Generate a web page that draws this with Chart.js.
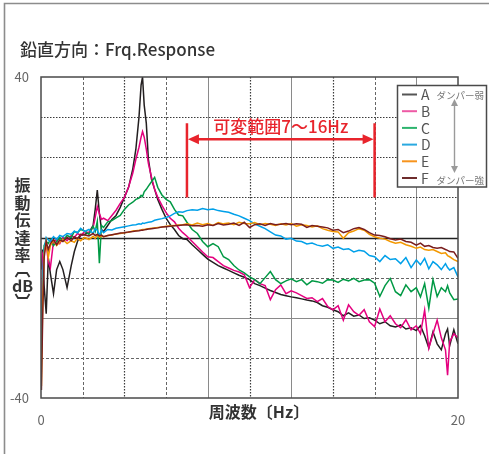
<!DOCTYPE html>
<html lang="ja">
<head>
<meta charset="utf-8">
<title>鉛直方向：Frq.Response</title>
<script src="https://cdn.jsdelivr.net/npm/chart.js@4.4.1/dist/chart.umd.min.js"></script>
<style>
  html, body { margin: 0; padding: 0; background: #fff; }
  canvas { display: block; }
</style>
</head>
<body>
<canvas id="frq" width="489" height="454"></canvas>
<script>
// frequency axis (Hz), shared by all series
const freqHz = [
  0.02, 0.08, 0.15, 0.25, 0.35, 0.45, 0.6, 0.75, 0.9, 1.05,
  1.25, 1.45, 1.6, 1.75, 1.9, 2.1, 2.3, 2.5, 2.6, 2.7,
  2.8, 2.9, 3.0, 3.2, 3.4, 3.6, 3.8, 4.0, 4.2, 4.4,
  4.55, 4.7, 4.8, 4.87, 4.95, 5.05, 5.15, 5.3, 5.45, 5.6,
  5.8, 6.0, 6.2, 6.4, 6.6, 6.8, 7.0, 7.25, 7.5, 7.75,
  8.0, 8.25, 8.5, 8.75, 9.0, 9.25, 9.5, 9.75, 10.0, 10.25,
  10.5, 10.75, 11.0, 11.25, 11.5, 11.75, 12.0, 12.25, 12.5, 12.75,
  13.0, 13.25, 13.5, 13.75, 14.0, 14.25, 14.5, 14.75, 15.0, 15.25,
  15.5, 15.75, 16.0, 16.25, 16.5, 16.75, 17.0, 17.25, 17.5, 17.75,
  18.0, 18.2, 18.4, 18.6, 18.8, 19.0, 19.2, 19.4, 19.5, 19.6,
  19.8, 20.0
];

// transmissibility (dB) per damper setting
const seriesA = [
  -8, -3, -12, -19, -5, -9, -14, -8, -6, -8,
  -12.5, -7, -3.5, -1, 0.5, 0.8, 1.2, 3, 7, 11.8,
  6, 2, 1.5, 3, 4.5, 5.5, 7.5, 10, 12.5, 17,
  22, 30, 38, 40, 33, 28.5, 19.5, 14.5, 12, 9.5,
  7, 4.8, 3.2, 2, 0.5, -0.3, -0.5, -1.8, -3, -4.2,
  -5.4, -6.2, -7, -7.6, -8.2, -8.8, -9.4, -9.9, -10.5, -11.5,
  -12, -12.6, -13.2, -13.7, -14.2, -14.5, -14.8, -15, -15.3, -15.6,
  -15.8, -16.2, -17, -17.4, -18, -18.5, -19.5, -18.8, -19.6, -19.3,
  -20.2, -20, -20.6, -21.5, -21, -22, -22.3, -21.8, -22.8, -22.5,
  -23.2, -22, -24.5, -27.5, -23.5, -26.5, -28, -24, -22.8, -27,
  -23, -26.5
];
const seriesB = [
  -22, -4, -3, -1.5, -6, -7.5, -1, -0.5, -1.5, 0,
  -0.8, 0.5, 0, 1, 0.5, 1.5, 1.2, 2.5, 5, 7.7,
  6, 4.5, 4.8, 4.2, 5.5, 6.8, 8.5, 10, 12.6, 16,
  19.5, 22.5, 25, 26.4, 25, 22, 18.5, 15, 12, 10,
  8, 6.2, 4.8, 3.9, 2.3, 1.2, 0.3, -1, -2.3, -3.6,
  -4.8, -5, -6, -7, -7.6, -8.2, -8.6, -9.3, -12.5, -10.5,
  -11.5, -12, -15.5, -13, -11.8, -14, -13.3, -13.8, -14.5, -15.2,
  -15, -16, -15.2, -17.2, -18, -17, -20.6, -16.8, -18.5, -19.4,
  -18, -21, -22.2, -17.8, -21, -19.5, -21.5, -22.5, -20.5, -23,
  -22, -24, -18.1, -27.6, -24, -20.6, -25, -28, -34.3, -26,
  -24, -25
];
const seriesC = [
  -20, -14, -2, -1, -1.5, -0.5, -2, -1, 0, -0.8,
  0.5, 0, 1.5, 1.2, 2, 1.6, 0.8, 2.8, 1.5, 4,
  -6.4, 3, 2.5, 3.9, 4.2, 4.9, 5.5, 7, 8.1, 8.8,
  9.5, 9.8, 10.5, 10.2, 11.4, 12, 12.8, 13.9, 15, 12.5,
  10.6, 9.5, 8.9, 7, 5.6, 5.4, 3.8, 2, 1, -1,
  -2.3, -1.5, -2.3, -4.8, -5.5, -7, -8.1, -8.8, -9.8, -10.5,
  -11.5, -10, -8.5, -10.5, -11.5, -10.8, -10.3, -11, -10.5, -11.8,
  -10.8, -11, -11.4, -10.5, -10.6, -11.2, -10.4, -10.8, -10.2, -11,
  -10.6, -10.5, -11.4, -14.7, -12, -10.2, -13.5, -14.5, -11.8, -13.5,
  -12.5, -14.8, -11.5, -17.6, -10.5, -14.7, -12.5, -13.5, -12, -13.8,
  -15.5, -15.3
];
const seriesD = [
  -29, -10, -3, 0, -0.6, -1, 0.2, -0.5, 0.5, 0.2,
  1, 0.8, 1.6, 1.2, 2.3, 1.5, 2, 1, 2.2, 1.8,
  0.5, 1.8, 1.2, 2, 1.9, 2.3, 2.5, 2.7, 2.9, 3.1,
  3.2, 3.4, 3.3, 3.6, 3.5, 3.7, 3.8, 3.9, 4.3, 4.5,
  4.7, 5, 5.4, 6, 6.4, 6.3, 6.7, 6.9, 6.8, 7.2,
  6.9, 7.1, 6.7, 6.5, 6.3, 5.8, 5.4, 4.8, 4.2, 3.4,
  2.8, 2.2, 1.4, 0.6, 0.4, -0.4, -0.2, -0.9, -1, -1.6,
  -1.4, -1.9, -2.2, -1.8, -2.7, -2.4, -3, -2.8, -3.6, -3.2,
  -3.4, -4.5, -4.8, -6, -4.5, -5.5, -5.3, -6.5, -5, -7.5,
  -5.6, -6.8, -5.2, -7.8, -6, -6.8, -8, -6.5, -7.5, -8.1,
  -7.5, -9.8
];
const seriesE = [
  -37, -16, -4, -1, -5, -2, -0.8, -2, -1.2, -0.5,
  -1.5, -0.8, -1.2, -0.2, -0.8, 0, -0.5, 0.3, -0.2, 0.6,
  0.1, 0.3, 0.2, 0.5, 0.6, 0.9, 1, 1.2, 1.3, 1.6,
  1.7, 1.8, 1.9, 2, 2, 2.1, 2.2, 2.3, 2.4, 2.5,
  2.6, 2.8, 2.9, 3, 3.1, 3.2, 3.4, 3.1, 3.6, 3.2,
  3.5, 3, 3.7, 3.4, 3.6, 3.2, 3.8, 3.5, 3.4, 3.7,
  3.2, 3.5, 3.3, 3, 3.4, 3.1, 3.5, 2.8, 3.2, 3,
  2.6, 2.9, 2.2, 1.8, 1.5, 1.4, -0.2, 1.2, 1.6, 2.2,
  1.8, 0.8, 0.2, -0.2, -0.4, -1, -1.4, -1.2, -1.8, -2.2,
  -2.7, -2.4, -3, -3.2, -3, -3.5, -4, -3.8, -4.5, -4.8,
  -5.5, -6
];
const seriesF = [
  -38, -20, -5, -1, -3, -1.5, -0.5, -1.8, -0.6, -1,
  0, -0.8, 0.2, -0.3, 0.8, 0.6, 0.4, 1, 0.5, 0.8,
  0.4, 0.6, 0.2, 0.5, 0.7, 0.9, 1.1, 1.2, 1.4, 1.5,
  1.6, 1.7, 1.8, 1.8, 1.9, 2, 2.1, 2.2, 2.3, 2.4,
  2.6, 2.7, 2.8, 2.9, 3, 3.1, 3.2, 2.9, 3, 2.8,
  3.2, 3, 3.5, 3.1, 3.3, 3.6, 3, 3.8, 2.5, 3.2,
  3.4, 3, 3.5, 3.2, 3.3, 3.5, 3.2, 3.4, 3.3, 2.5,
  3, 2.8, 2.6, 2.4, 1.8, 2, 1.2, 1.6, 2.2, 2.5,
  2, 1.2, 0.6, 0.5, 0.2, -0.3, -0.6, -0.4, -1, -1.2,
  -1.9, -1.4, -2.2, -2, -2.5, -2.7, -2.5, -3, -3.2, -3.5,
  -3.6, -5.2
];

const seriesNames = ['A', 'B', 'C', 'D', 'E', 'F'];
const seriesValues = [seriesA, seriesB, seriesC, seriesD, seriesE, seriesF];
const lineColors = ['#231f20', '#e4007f', '#009944', '#00a0e9', '#f39800', '#7a1e1e'];
const legendColors = ['#555555', '#ee5aa5', '#2db46e', '#2aa9e0', '#f7941d', '#6e2c2c'];

// grid lines and their look
const xGridHz = [2, 4, 6, 8, 10, 12, 14, 16, 18];
const xGridKind = ['dash', 'dot', 'dash', 'solid', 'dot', 'solid', 'dot', 'dash', 'solid'];
const yGridDb = [30, 20, 10, 0, -10, -20, -30];
const yGridKind = ['dot', 'dot', 'dot', 'zero', 'dash', 'solid', 'dash'];

// adjustable range note
const rangeHz = [7, 16];
const rangeLabel = '可変範囲7〜16Hz';

const FONT = '"Noto Sans CJK JP", "Noto Sans", sans-serif';

const gridLook = {
  dot:   { color: '#3a3a3a', width: 1.2, dash: [1.5, 1.5] },
  dash:  { color: '#666666', width: 1,   dash: [3, 2] },
  solid: { color: '#8a8a8a', width: 1,   dash: [] },
  zero:  { color: '#222222', width: 1.4, dash: [] }
};

function strokeLine(ctx, x1, y1, x2, y2, look) {
  ctx.save();
  ctx.strokeStyle = look.color;
  ctx.lineWidth = look.width;
  ctx.setLineDash(look.dash);
  ctx.beginPath();
  ctx.moveTo(x1, y1);
  ctx.lineTo(x2, y2);
  ctx.stroke();
  ctx.restore();
}

function arrowHead(ctx, x, y, dir, len, half) {
  // dir: 'left' | 'right' | 'up' | 'down', (x, y) is the tip
  ctx.beginPath();
  ctx.moveTo(x, y);
  if (dir === 'right') { ctx.lineTo(x - len, y - half); ctx.lineTo(x - len, y + half); }
  if (dir === 'left')  { ctx.lineTo(x + len, y - half); ctx.lineTo(x + len, y + half); }
  if (dir === 'up')    { ctx.lineTo(x - half, y + len); ctx.lineTo(x + half, y + len); }
  if (dir === 'down')  { ctx.lineTo(x - half, y - len); ctx.lineTo(x + half, y - len); }
  ctx.closePath();
  ctx.fill();
}

// vertical-text bracket: opening one bows up, closing one bows down
function vBracket(ctx, cx, cy, opening) {
  const s = opening ? 1 : -1;
  ctx.beginPath();
  ctx.moveTo(cx - 7, cy + 2.5 * s);
  ctx.lineTo(cx - 4.5, cy - 1.5 * s);
  ctx.lineTo(cx + 4.5, cy - 1.5 * s);
  ctx.lineTo(cx + 7, cy + 2.5 * s);
  ctx.stroke();
}

const gridPlugin = {
  id: 'customGrid',
  beforeDatasetsDraw(chart) {
    const { ctx, chartArea: a, scales: { x, y } } = chart;
    xGridHz.forEach((hz, i) => {
      const px = Math.round(x.getPixelForValue(hz)) + 0.5;
      strokeLine(ctx, px, a.top, px, a.bottom, gridLook[xGridKind[i]]);
    });
    yGridDb.forEach((db, i) => {
      const py = Math.round(y.getPixelForValue(db)) + 0.5;
      strokeLine(ctx, a.left, py, a.right, py, gridLook[yGridKind[i]]);
    });
  }
};

const decorPlugin = {
  id: 'decor',
  afterDraw(chart) {
    const { ctx, chartArea: a, scales: { x, y } } = chart;
    ctx.save();

    // outer frame (left + top)
    ctx.strokeStyle = '#8c8c8c';
    ctx.lineWidth = 1.6;
    ctx.beginPath();
    ctx.moveTo(4.5, 454);
    ctx.lineTo(4.5, 3.5);
    ctx.lineTo(489, 3.5);
    ctx.stroke();

    // plot frame
    ctx.strokeStyle = '#4a4a4a';
    ctx.lineWidth = 1.5;
    ctx.strokeRect(a.left, a.top, a.right - a.left, a.bottom - a.top);

    // title
    ctx.fillStyle = '#333';
    ctx.font = '500 17px ' + FONT;
    ctx.textAlign = 'left';
    ctx.textBaseline = 'middle';
    ctx.fillText('鉛直方向：Frq.Response', 20, 50);

    // y axis title, stacked
    ctx.font = 'bold 16px ' + FONT;
    ctx.textAlign = 'center';
    ['振', '動', '伝', '達', '率'].forEach((ch, i) => {
      ctx.fillText(ch, 22.5, 185 + i * 17.6);
    });
    ctx.strokeStyle = '#333';
    ctx.lineWidth = 1.8;
    vBracket(ctx, 22.5, 274.5, true);
    ctx.fillText('dB', 22.5, 286);
    vBracket(ctx, 22.5, 296.5, false);

    // x axis title
    ctx.fillText('周波数〔Hz〕', 259, 412);

    // range note
    const red = '#e8242c';
    const x1 = x.getPixelForValue(rangeHz[0]);
    const x2 = x.getPixelForValue(rangeHz[1]);
    const yTop = y.getPixelForValue(28.5);
    const yBot = y.getPixelForValue(10);
    const yArr = y.getPixelForValue(24.5);
    ctx.strokeStyle = red;
    ctx.fillStyle = red;
    ctx.lineWidth = 2.5;
    ctx.setLineDash([]);
    ctx.beginPath();
    ctx.moveTo(x1, yTop); ctx.lineTo(x1, yBot);
    ctx.moveTo(x2, yTop); ctx.lineTo(x2, yBot);
    ctx.moveTo(x1 + 8, yArr); ctx.lineTo(x2 - 8, yArr);
    ctx.stroke();
    arrowHead(ctx, x1 + 1, yArr, 'left', 11, 5);
    arrowHead(ctx, x2 - 1, yArr, 'right', 11, 5);
    ctx.font = '500 17px ' + FONT;
    ctx.textAlign = 'center';
    ctx.fillText(rangeLabel, (x1 + x2) / 2, y.getPixelForValue(27.6));

    // legend
    ctx.fillStyle = '#fff';
    ctx.fillRect(397.5, 85.5, 89, 101.5);
    ctx.strokeStyle = '#4a4a4a';
    ctx.lineWidth = 1.5;
    ctx.strokeRect(397.5, 85.5, 89, 101.5);
    ctx.textAlign = 'left';
    ctx.font = '14px ' + FONT;
    seriesNames.forEach((name, i) => {
      const ry = 94.5 + i * 16.7;
      ctx.strokeStyle = legendColors[i];
      ctx.lineWidth = 2;
      ctx.beginPath();
      ctx.moveTo(402, ry);
      ctx.lineTo(417, ry);
      ctx.stroke();
      ctx.fillStyle = '#555';
      ctx.fillText(name, 421, ry + 0.5);
    });
    ctx.fillStyle = '#777';
    ctx.font = '9.5px ' + FONT;
    ctx.textAlign = 'right';
    ctx.fillText('ダンパー弱', 484, 95);
    ctx.fillText('ダンパー強', 484, 180);
    ctx.strokeStyle = '#9a9a9a';
    ctx.fillStyle = '#9a9a9a';
    ctx.lineWidth = 1.4;
    ctx.beginPath();
    ctx.moveTo(454.5, 104);
    ctx.lineTo(454.5, 168);
    ctx.stroke();
    arrowHead(ctx, 454.5, 99, 'up', 7, 3.5);
    arrowHead(ctx, 454.5, 173, 'down', 7, 3.5);

    ctx.restore();
  }
};

const datasets = seriesValues.map((vals, i) => ({
  label: seriesNames[i],
  data: freqHz.map((f, k) => ({ x: f, y: vals[k] })),
  borderColor: lineColors[i],
  borderWidth: 1.5,
  pointRadius: 0,
  tension: 0,
  fill: false,
  order: seriesNames.length - i
}));

new Chart(document.getElementById('frq').getContext('2d'), {
  type: 'line',
  data: { datasets },
  options: {
    responsive: false,
    animation: false,
    devicePixelRatio: 1,
    layout: { padding: { top: 77, right: 31, left: 0, bottom: 0 } },
    plugins: { legend: { display: false }, tooltip: { enabled: false }, title: { display: false } },
    scales: {
      x: {
        type: 'linear', min: 0, max: 20,
        grid: { display: false }, border: { display: false },
        ticks: {
          stepSize: 2, padding: 6, color: '#666', maxRotation: 0,
          font: { family: FONT, size: 13 },
          callback: v => (v === 0 || v === 20) ? String(v) : ''
        },
        afterFit: s => { s.height = 56; }
      },
      y: {
        min: -40, max: 40,
        grid: { display: false }, border: { display: false },
        ticks: {
          stepSize: 10, padding: 4, color: '#666',
          font: { family: FONT, size: 13 },
          callback: v => (v === 40 || v === -40) ? String(v) : ''
        },
        afterFit: s => { s.width = 41; }
      }
    }
  },
  plugins: [gridPlugin, decorPlugin]
});
</script>
</body>
</html>
